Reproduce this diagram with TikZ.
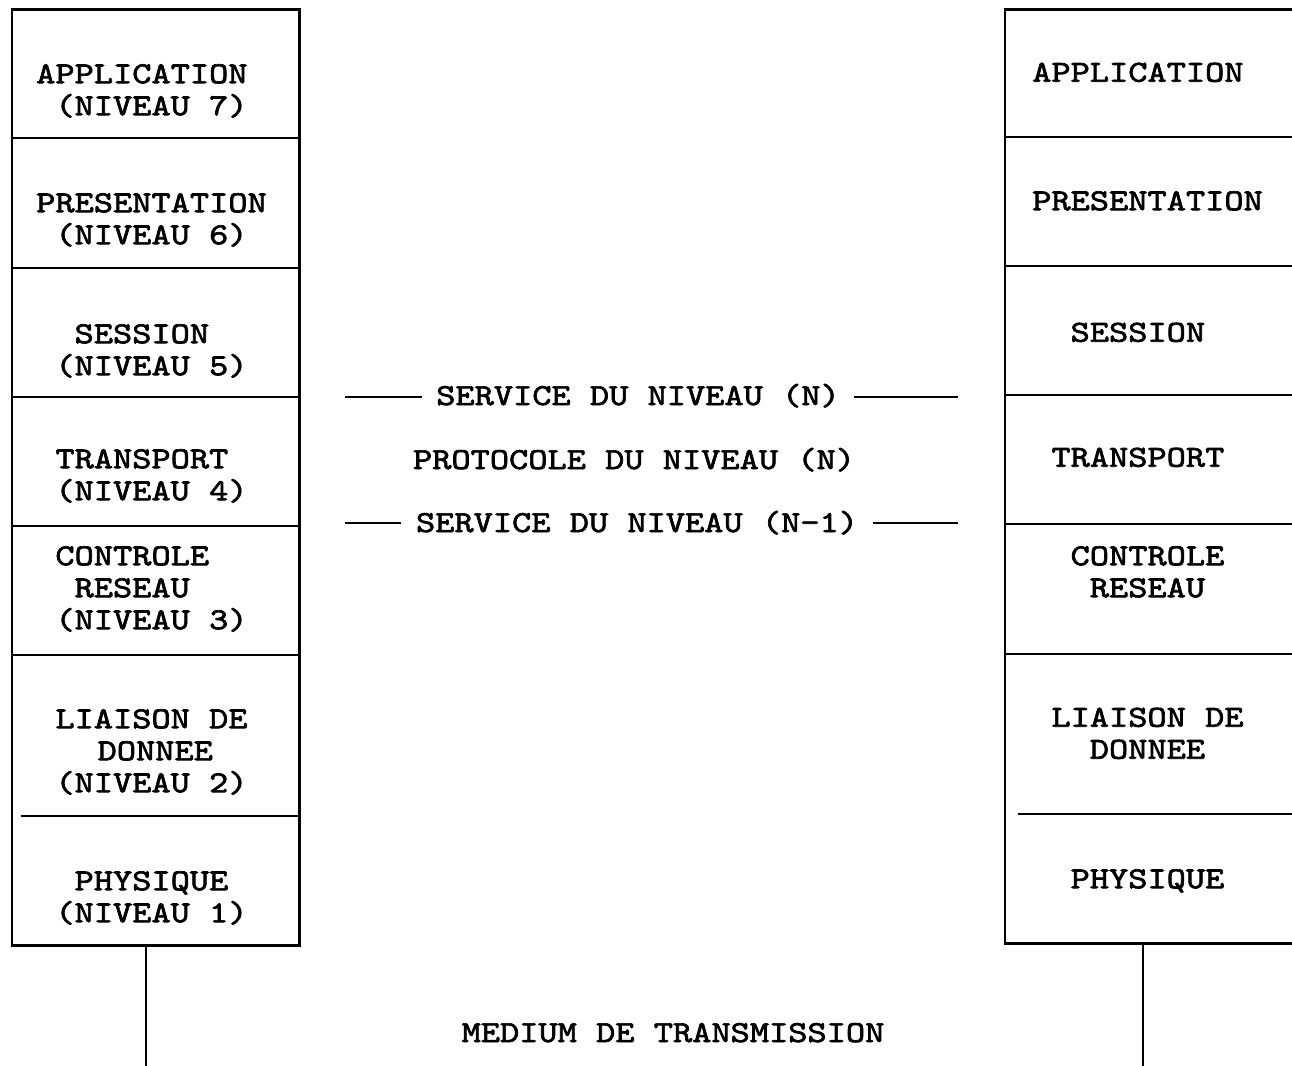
\documentclass[tikz,border=0pt]{standalone}
\usepackage{fontspec}
\newfontfamily\tw{lmmono10-regular.otf}[FakeBold=2.2, FakeStretch=1.2]
\newdimen\pitch \pitch=19.2pt
\newcommand\tst{\rule[-8pt]{0pt}{34pt}}
\newcommand\Lyr[2]{\tst\hspace*{#1\pitch}#2}
\lineskiplimit=-100pt
\tikzset{
  txtfont/.style={font=\tw\fontsize{30.5}{32}\selectfont},
  lbl/.style={txtfont, align=left, inner sep=0pt, anchor=north west},
  mid/.style={txtfont, inner ysep=0pt, anchor=base},
  layerL/.style={rectangle, inner sep=0pt, minimum width=287pt},
  layerR/.style={rectangle, inner sep=0pt, minimum width=295pt},
  frame/.style={line width=2.6pt},
  divline/.style={line width=1.8pt},
  wire/.style={line width=2.6pt},
  dashline/.style={line width=1.6pt}
}
\begin{document}
\begin{tikzpicture}[x=1pt,y=-1pt]
\useasboundingbox (0,0) rectangle (1292,1065);
\clip (0,0) rectangle (1292,1065);
% left stack layers
\node[layerL, minimum height=128pt] (L7) at (155.5,74) {};
\node[layerL, minimum height=130pt] (L6) at (155.5,203) {};
\node[layerL, minimum height=129pt] (L5) at (155.5,332.5) {};
\node[layerL, minimum height=129pt] (L4) at (155.5,461.5) {};
\node[layerL, minimum height=129pt] (L3) at (155.5,590.5) {};
\node[layerL, minimum height=161pt] (L2) at (155.5,735.5) {};
\node[layerL, minimum height=129pt] (L1) at (155.5,880.5) {};
% right stack layers
\node[layerR, minimum height=127pt] (R7) at (1152.5,73.5) {};
\node[layerR, minimum height=129pt] (R6) at (1152.5,201.5) {};
\node[layerR, minimum height=129pt] (R5) at (1152.5,330.5) {};
\node[layerR, minimum height=129pt] (R4) at (1152.5,459.5) {};
\node[layerR, minimum height=130pt] (R3) at (1152.5,589) {};
\node[layerR, minimum height=160pt] (R2) at (1152.5,734) {};
\node[layerR, minimum height=129pt] (R1) at (1152.5,878.5) {};
% frames
\draw[frame] (L7.north west) rectangle (L1.south east);
\draw[frame] (R7.north west) rectangle (R1.south east);
% dividers
\foreach \n in {L7,L6,L5,L4,L3,R7,R6,R5,R4,R3}
  \draw[divline] (\n.south west) -- (\n.south east);
\draw[divline] ([xshift=9pt]L2.south west) -- (L2.south east);
\draw[divline] ([xshift=13pt]R2.south west) -- (R2.south east);
% transmission medium wires
\coordinate (mL) at (146,1070);
\coordinate (mR) at (1143,1070);
\draw[wire] (mL |- L1.south) -- (mL);
\draw[wire] (mR |- R1.south) -- (mR);
% left labels
\node[lbl] (t7) at (36,57) {\Lyr{0}{APPLICATION}\\\Lyr{1}{(NIVEAU 7)}};
\node[lbl] (t6) at (36,186) {\Lyr{0}{PRESENTATION}\\\Lyr{1}{(NIVEAU 6)}};
\node[lbl] (t5) at (36,317) {\Lyr{2}{SESSION}\\\Lyr{1}{(NIVEAU 5)}};
\node[lbl] (t4) at (36,442) {\Lyr{1}{TRANSPORT}\\\Lyr{1}{(NIVEAU 4)}};
\node[lbl] (t3) at (36,539) {\Lyr{1}{CONTROLE}\\\Lyr{2}{RESEAU}\\\Lyr{1}{(NIVEAU 3)}};
\node[lbl] (t2) at (36,702) {\Lyr{1}{LIAISON DE}\\\Lyr{3.2}{DONNEE}\\\Lyr{1}{(NIVEAU 2)}};
\node[lbl] (t1) at (36,864) {\Lyr{2}{PHYSIQUE}\\\Lyr{1}{(NIVEAU 1)}};
% right labels
\node[lbl] (r7) at (1032,55.5) {\Lyr{0}{APPLICATION}};
\node[lbl] (r6) at (1032,184) {\Lyr{0}{PRESENTATION}};
\node[lbl] (r5) at (1032,315.5) {\Lyr{2}{SESSION}};
\node[lbl] (r4) at (1032,440.5) {\Lyr{1}{TRANSPORT}};
\node[lbl] (r3) at (1032,539) {\Lyr{2}{CONTROLE}\\\Lyr{3}{RESEAU}};
\node[lbl] (r2) at (1032,700.5) {\Lyr{1}{LIAISON DE}\\\Lyr{3}{DONNEE}};
\node[lbl] (r1) at (1032,862) {\Lyr{2}{PHYSIQUE}};
% middle texts
\node[mid, inner xsep=14pt] (S1) at (638,405) {SERVICE DU NIVEAU (N)};
\node[mid] (P1) at (634,469) {PROTOCOLE DU NIVEAU (N)};
\node[mid, inner xsep=15pt] (S2) at (637,532) {SERVICE DU NIVEAU (N-1)};
\coordinate (s1a) at (345,397);
\coordinate (s1b) at (958,397);
\coordinate (s2a) at (345,523);
\coordinate (s2b) at (958,523);
\draw[dashline] (s1a) -- (s1a -| S1.west);
\draw[dashline] (s1a -| S1.east) -- (s1b);
\draw[dashline] (s2a) -- (s2a -| S2.west);
\draw[dashline] (s2a -| S2.east) -- (s2b);
\node[mid] (M) at (673,1042) {MEDIUM DE TRANSMISSION};
\end{tikzpicture}
\end{document}
